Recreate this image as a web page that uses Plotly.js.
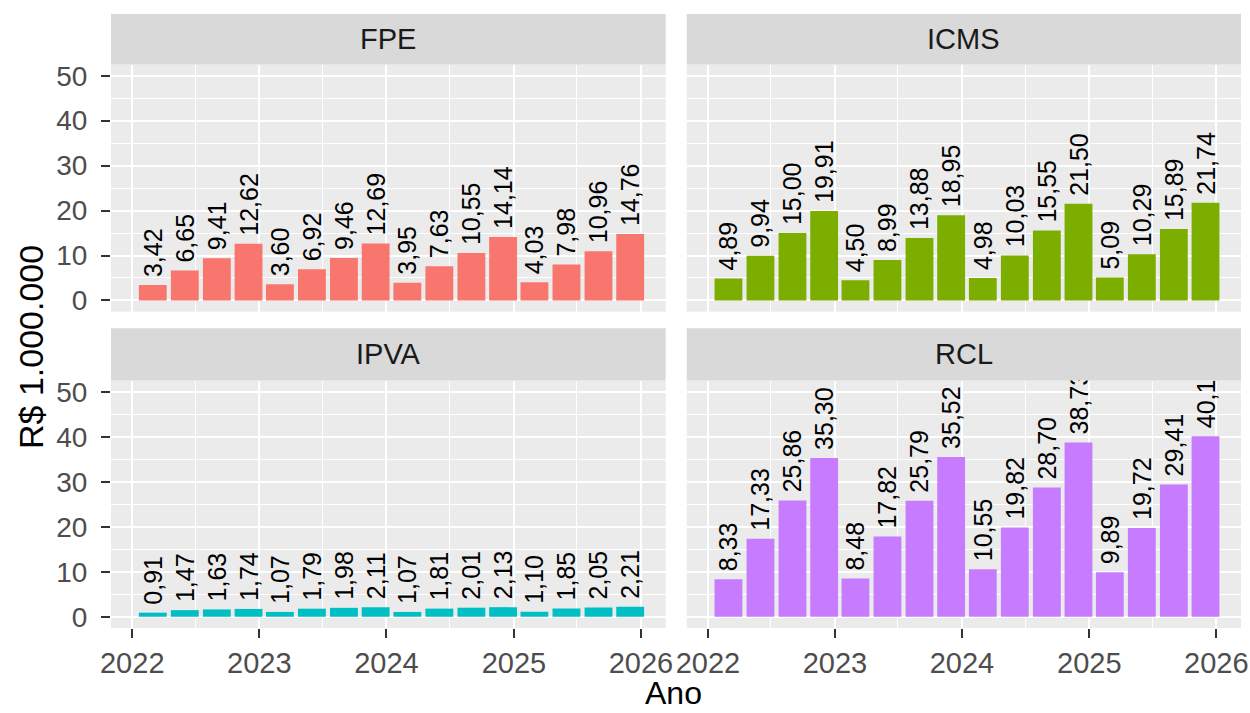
<!DOCTYPE html>
<html>
<head>
<meta charset="utf-8">
<script src="https://cdn.plot.ly/plotly-3.0.1.min.js"></script>
<style>html,body{margin:0;padding:0;background:#fff;}#chart{width:1250px;height:713px;}</style>
</head>
<body>
<div id="chart"></div>
<script>
// Quarterly periods
const periods = ['2022-03-01','2022-06-01','2022-09-01','2022-12-01',
                 '2023-03-01','2023-06-01','2023-09-01','2023-12-01',
                 '2024-03-01','2024-06-01','2024-09-01','2024-12-01',
                 '2025-03-01','2025-06-01','2025-09-01','2025-12-01'];
const panels = ['FPE','ICMS','IPVA','RCL'];
const fpe  = [3.42, 6.65, 9.41, 12.62, 3.60, 6.92, 9.46, 12.69, 3.95, 7.63, 10.55, 14.14, 4.03, 7.98, 10.96, 14.76];
const icms = [4.89, 9.94, 15.00, 19.91, 4.50, 8.99, 13.88, 18.95, 4.98, 10.03, 15.55, 21.50, 5.09, 10.29, 15.89, 21.74];
const ipva = [0.91, 1.47, 1.63, 1.74, 1.07, 1.79, 1.98, 2.11, 1.07, 1.81, 2.01, 2.13, 1.10, 1.85, 2.05, 2.21];
const rcl  = [8.33, 17.33, 25.86, 35.30, 8.48, 17.82, 25.79, 35.52, 10.55, 19.82, 28.70, 38.73, 9.89, 19.72, 29.41, 40.12];
const yTitle = 'R$ 1.000.000';
const xTitle = 'Ano';

const colors = ['#F8766D','#7CAE00','#00BFC4','#C77CFF'];
const series = [fpe, icms, ipva, rcl];
// axis assignment: FPE top-left, ICMS top-right, IPVA bottom-left, RCL bottom-right
const axes = [['x3','y3'],['x4','y4'],['x','y'],['x2','y2']];

const W = 1250, H = 713;
const px = v => v / W;
const py = v => 1 - v / H;
const colX = [[px(111), px(665.7)], [px(686.7), px(1241)]];
const rowPanel = [[py(311.7), py(64.5)], [py(628), py(380.5)]]; // [top row], [bottom row]
const rowStrip = [[py(64.5), py(14)], [py(380.5), py(328.3)]];

const barWidth = 80 * 86400000;
const font = 'Liberation Sans, Arial, sans-serif';

const traces = series.map((vals, i) => ({
  type: 'bar',
  x: periods,
  y: vals,
  width: barWidth,
  xaxis: axes[i][0],
  yaxis: axes[i][1],
  marker: {color: colors[i], line: {width: 0}},
  texttemplate: '\u2009%{y:.2f}',
  textposition: 'outside',
  textangle: -90,
  constraintext: 'none',
  cliponaxis: true,
  textfont: {family: font, size: 25, color: '#000000'},
  hoverinfo: 'skip',
  showlegend: false
}));

function xAxis(col, row, showLabels) {
  return {
    domain: colX[col],
    anchor: row === 0 ? (col === 0 ? 'y3' : 'y4') : (col === 0 ? 'y' : 'y2'),
    type: 'date',
    range: ['2021-11-01', '2026-03-13'],
    tick0: '2022-01-01',
    dtick: 'M12',
    tickformat: '%Y',
    showgrid: true, gridcolor: '#FFFFFF', gridwidth: 2,
    minor: {dtick: 'M6', tick0: '2022-01-01', showgrid: true, gridcolor: '#FFFFFF', gridwidth: 1, ticks: ''},
    zeroline: false, showline: false,
    ticks: showLabels ? 'outside' : '',
    ticklen: 9, tickwidth: 2, tickcolor: '#333333',
    showticklabels: showLabels,
    ticklabelstandoff: 0,
    tickfont: {family: font, size: 29, color: '#4D4D4D'},
    fixedrange: true
  };
}
function yAxis(col, row, showLabels) {
  return {
    domain: rowPanel[row],
    anchor: row === 0 ? (col === 0 ? 'x3' : 'x4') : (col === 0 ? 'x' : 'x2'),
    range: [-2.5, 52.5],
    tick0: 0, dtick: 10,
    showgrid: true, gridcolor: '#FFFFFF', gridwidth: 2,
    minor: {dtick: 5, tick0: 0, showgrid: true, gridcolor: '#FFFFFF', gridwidth: 1, ticks: ''},
    zeroline: false, showline: false,
    ticks: showLabels ? 'outside' : '',
    ticklen: 9, tickwidth: 2, tickcolor: '#333333',
    showticklabels: showLabels,
    ticklabelstandoff: 8,
    tickfont: {family: font, size: 28, color: '#4D4D4D'},
    fixedrange: true
  };
}

const shapes = [];
const annotations = [];
const stripPos = [[0,0],[1,0],[0,1],[1,1]]; // [col,row] for FPE, ICMS, IPVA, RCL
panels.forEach((name, i) => {
  const [c, r] = stripPos[i];
  shapes.push({type: 'rect', xref: 'paper', yref: 'paper', layer: 'below',
    x0: colX[c][0], x1: colX[c][1], y0: rowStrip[r][0], y1: rowStrip[r][1],
    fillcolor: '#D9D9D9', line: {width: 0}});
  annotations.push({xref: 'paper', yref: 'paper', showarrow: false,
    x: (colX[c][0] + colX[c][1]) / 2, y: (rowStrip[r][0] + rowStrip[r][1]) / 2,
    xanchor: 'center', yanchor: 'middle', text: name,
    font: {family: font, size: 29, color: '#1A1A1A'}});
});
annotations.push({xref: 'paper', yref: 'paper', showarrow: false,
  x: px(673), y: 0, xanchor: 'center', yanchor: 'bottom', text: xTitle,
  font: {family: font, size: 32, color: '#000000'}});
annotations.push({xref: 'paper', yref: 'paper', showarrow: false, textangle: -90,
  x: px(31), y: py(347), xanchor: 'center', yanchor: 'middle', text: yTitle,
  font: {family: font, size: 34, color: '#000000'}});

const layout = {
  width: W, height: H,
  margin: {l: 0, r: 0, t: 0, b: 0, pad: 0},
  paper_bgcolor: '#FFFFFF',
  plot_bgcolor: '#EBEBEB',
  separators: ',.',
  showlegend: false,
  font: {family: font},
  xaxis: xAxis(0, 1, true),
  xaxis2: xAxis(1, 1, true),
  xaxis3: xAxis(0, 0, false),
  xaxis4: xAxis(1, 0, false),
  yaxis: yAxis(0, 1, true),
  yaxis2: yAxis(1, 1, false),
  yaxis3: yAxis(0, 0, true),
  yaxis4: yAxis(1, 0, false),
  shapes: shapes,
  annotations: annotations
};

Plotly.newPlot('chart', traces, layout, {displayModeBar: false, staticPlot: true});
</script>
</body>
</html>
